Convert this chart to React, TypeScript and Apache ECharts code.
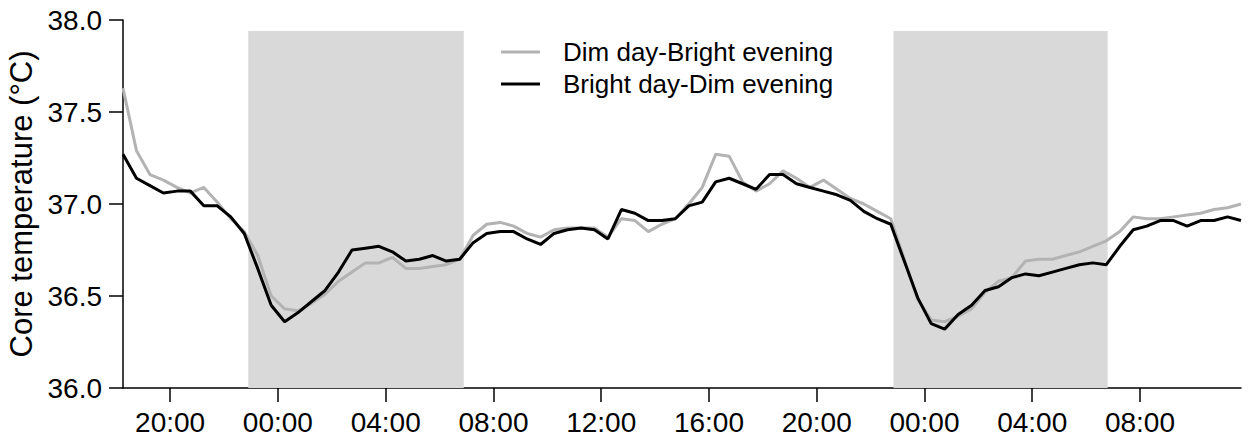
import React, { useEffect, useRef } from "react";
import * as echarts from "echarts";

// Time grid: half-hour bins starting 18:15 on day 1 (hours counted from day-1 midnight)
const START_HOUR = 18.25;
const STEP_HOURS = 0.5;

const SERIES_DIM_DAY = "Dim day-Bright evening";
const SERIES_BRIGHT_DAY = "Bright day-Dim evening";

const dimDayBrightEvening = [
  37.63, 37.29, 37.16, 37.13, 37.09, 37.06, 37.09, 37.01, 36.92, 36.85,
  36.72, 36.5, 36.43, 36.42, 36.46, 36.51, 36.58, 36.63, 36.68, 36.68,
  36.71, 36.65, 36.65, 36.66, 36.67, 36.7, 36.83, 36.89, 36.9, 36.88,
  36.84, 36.82, 36.86, 36.87, 36.87, 36.87, 36.82, 36.92, 36.91, 36.85,
  36.89, 36.92, 37.0, 37.09, 37.27, 37.26, 37.12, 37.07, 37.11, 37.18,
  37.14, 37.09, 37.13, 37.08, 37.03, 37.0, 36.96, 36.92, 36.7, 36.48,
  36.37, 36.36, 36.39, 36.43, 36.52, 36.58, 36.6, 36.69, 36.7, 36.7,
  36.72, 36.74, 36.77, 36.8, 36.85, 36.93, 36.92, 36.92, 36.93, 36.94,
  36.95, 36.97, 36.98, 37.0,
];

const brightDayDimEvening = [
  37.27, 37.14, 37.1, 37.06, 37.07, 37.07, 36.99, 36.99, 36.93, 36.84,
  36.65, 36.45, 36.36, 36.41, 36.47, 36.53, 36.63, 36.75, 36.76, 36.77,
  36.74, 36.69, 36.7, 36.72, 36.69, 36.7, 36.79, 36.84, 36.85, 36.85,
  36.81, 36.78, 36.84, 36.86, 36.87, 36.86, 36.81, 36.97, 36.95, 36.91,
  36.91, 36.92, 36.99, 37.01, 37.12, 37.14, 37.11, 37.08, 37.16, 37.16,
  37.11, 37.09, 37.07, 37.05, 37.02, 36.96, 36.92, 36.89, 36.69, 36.49,
  36.35, 36.32, 36.4, 36.45, 36.53, 36.55, 36.6, 36.62, 36.61, 36.63,
  36.65, 36.67, 36.68, 36.67, 36.77, 36.86, 36.88, 36.91, 36.91, 36.88,
  36.91, 36.91, 36.93, 36.91,
];

const tickHours = [20, 24, 28, 32, 36, 40, 44, 48, 52, 56];
const lightsOff = [
  [22.9, 30.9],
  [46.85, 54.8],
];
const BAND_TOP = 37.94;
const Y_MIN = 36;
const Y_MAX = 38;
const Y_INTERVAL = 0.5;

const FONT = "'Liberation Sans', Arial, Helvetica, sans-serif";

function toPairs(values: number[]) {
  return values.map((v, i) => [START_HOUR + i * STEP_HOURS, v]);
}

function formatHour(h: number) {
  const hh = ((Math.round(h) % 24) + 24) % 24;
  return (hh < 10 ? "0" : "") + hh + ":00";
}

export default function App() {
  const ref = useRef<HTMLDivElement>(null);

  useEffect(() => {
    if (!ref.current) return;
    const chart = echarts.init(ref.current, undefined, { renderer: "svg" });
    const xMax = START_HOUR + (dimDayBrightEvening.length - 1) * STEP_HOURS;

    chart.setOption({
      animation: false,
      backgroundColor: "#fff",
      textStyle: { fontFamily: FONT },
      grid: {
        left: 123,
        right: 10,
        top: 20,
        bottom: 52,
        containLabel: false,
        outerBoundsMode: "none",
      },
      legend: {
        data: [SERIES_DIM_DAY, SERIES_BRIGHT_DAY],
        orient: "vertical",
        left: 496,
        top: 34,
        itemWidth: 39,
        itemHeight: 3,
        itemGap: 6,
        icon: "rect",
        textStyle: {
          fontSize: 26,
          color: "#000",
          fontFamily: FONT,
          lineHeight: 26,
          padding: [0, 0, 0, 18],
        },
      },
      xAxis: {
        type: "value",
        min: START_HOUR,
        max: xMax,
        splitLine: { show: false },
        axisLine: { onZero: false, lineStyle: { color: "#000", width: 1.5 } },
        axisTick: {
          show: true,
          customValues: tickHours,
          length: 14,
          lineStyle: { color: "#000", width: 1.5 },
        },
        axisLabel: {
          customValues: tickHours,
          formatter: (v: number) => formatHour(v),
          fontSize: 28,
          color: "#000",
          margin: 20,
          fontFamily: FONT,
        },
      },
      yAxis: {
        type: "value",
        min: Y_MIN,
        max: Y_MAX,
        interval: Y_INTERVAL,
        splitLine: { show: false },
        axisLine: { show: true, lineStyle: { color: "#000", width: 1.5 } },
        axisTick: { show: true, length: 14, lineStyle: { color: "#000", width: 1.5 } },
        axisLabel: {
          formatter: (v: number) => v.toFixed(1),
          fontSize: 28,
          color: "#000",
          margin: 21,
          fontFamily: FONT,
        },
        name: "Core temperature (°C)",
        nameLocation: "middle",
        nameGap: 74,
        nameTextStyle: { fontSize: 31, color: "#000", fontFamily: FONT },
      },
      series: [
        {
          name: "Lights off",
          type: "line",
          data: [],
          silent: true,
          markArea: {
            silent: true,
            itemStyle: { color: "#d9d9d9" },
            data: lightsOff.map(([a, b]) => [
              { xAxis: a, yAxis: Y_MIN },
              { xAxis: b, yAxis: BAND_TOP },
            ]),
          },
        },
        {
          name: SERIES_DIM_DAY,
          type: "line",
          data: toPairs(dimDayBrightEvening),
          showSymbol: false,
          symbol: "none",
          lineStyle: { color: "#b3b3b3", width: 3 },
          itemStyle: { color: "#b3b3b3" },
        },
        {
          name: SERIES_BRIGHT_DAY,
          type: "line",
          data: toPairs(brightDayDimEvening),
          showSymbol: false,
          symbol: "none",
          lineStyle: { color: "#000", width: 3 },
          itemStyle: { color: "#000" },
        },
      ],
    });

    return () => chart.dispose();
  }, []);

  return (
    <div
      ref={ref}
      style={{ position: "fixed", left: 0, top: 0, width: 1251, height: 440 }}
    />
  );
}
